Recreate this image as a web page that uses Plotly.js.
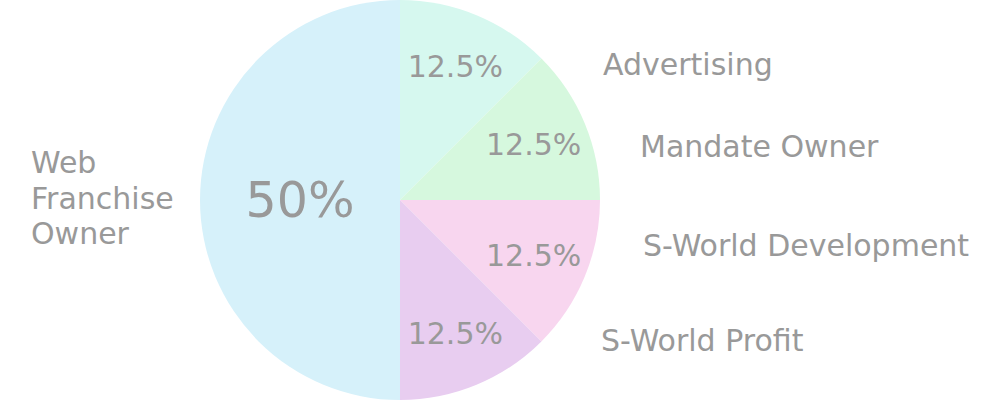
<!DOCTYPE html>
<html>
<head>
<meta charset="utf-8">
<script src="https://cdn.plot.ly/plotly-3.0.1.min.js"></script>
<style>html,body{margin:0;padding:0;background:#fff;}#chart{width:1000px;height:400px;}</style>
</head>
<body>
<div id="chart"></div>
<script>
const labels = ["Advertising", "Mandate Owner", "S-World Development", "S-World Profit", "Web<br>Franchise<br>Owner"];
const values = [12.5, 12.5, 12.5, 12.5, 50];
const colors = ["#d6f8ef", "#d6f8de", "#f8d6ef", "#e8cdf0", "#d6f1fa"];
const textSizes = [30, 30, 30, 30, 49];

// label anchor positions (pixels in the 1000x400 canvas)
const labelPos = [[601, 65], [638, 147], [641, 245], [599, 340], [29, 198]];
const lineGap = 35.5;

const trace = {
  type: "pie",
  labels: labels,
  values: values,
  sort: false,
  direction: "clockwise",
  rotation: 0,
  marker: {colors: colors, line: {width: 0}},
  textinfo: "percent",
  textposition: "inside",
  insidetextorientation: "horizontal",
  texttemplate: "%{percent:.3~p}",
  textfont: {family: "DejaVu Sans", size: textSizes, color: "#999999"},
  domain: {x: [0.2, 0.6], y: [0, 1]},
  hoverinfo: "label+percent",
  showlegend: false
};

const annotations = [];
labels.forEach((l, i) => {
  const lines = l.split("<br>");
  lines.forEach((line, k) => {
    const py = labelPos[i][1] + (k - (lines.length - 1) / 2) * lineGap;
    annotations.push({
      text: line,
      xref: "paper", yref: "paper",
      x: labelPos[i][0] / 1000,
      y: 1 - py / 400,
      xanchor: "left", yanchor: "middle", align: "left",
      showarrow: false,
      font: {family: "DejaVu Sans", size: 30, color: "#999999"}
    });
  });
});

Plotly.newPlot("chart", [trace], {
  width: 1000, height: 400,
  margin: {l: 0, r: 0, t: 0, b: 0},
  paper_bgcolor: "#fff",
  annotations: annotations
}, {displayModeBar: false, staticPlot: true});
</script>
</body>
</html>
